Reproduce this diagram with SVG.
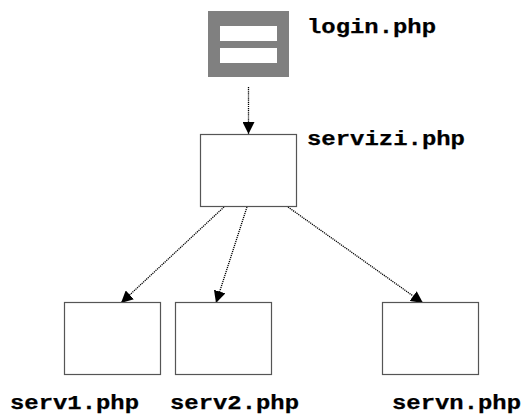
<svg xmlns="http://www.w3.org/2000/svg" width="526" height="414" viewBox="0 0 526 414">
<style>
.box{fill:#fff;stroke:#555;stroke-width:1.2}
.lbl{font-family:"Liberation Mono","Courier New",monospace;font-weight:bold;font-size:19.5px;fill:#000;stroke:#000;stroke-width:.25}
.con{fill:none;stroke:#000;stroke-width:1.3;stroke-dasharray:1.2 .9;marker-end:url(#arrow)}
</style>
<defs>
<marker id="arrow" viewBox="0 0 12 12" refX="12" refY="6" markerWidth="12" markerHeight="12" markerUnits="userSpaceOnUse" orient="auto"><path d="M0 0L12 6L0 12Z" fill="#000"/></marker>
</defs>
<rect width="526" height="414" fill="#fff"/>
<g id="connectors">
<line class="con" x1="248.5" y1="87" x2="248.5" y2="134"/>
<line class="con" x1="224" y1="207" x2="121" y2="303"/>
<line class="con" x1="247" y1="207" x2="216" y2="303"/>
<line class="con" x1="288" y1="207" x2="423" y2="303"/>
</g>
<g id="login">
<rect x="208" y="11" width="81" height="66" fill="#808080"/>
<rect x="220" y="26" width="57" height="15" fill="#fff"/>
<rect x="220" y="48" width="57" height="15" fill="#fff"/>
<text class="lbl" x="307" y="33" textLength="129" lengthAdjust="spacingAndGlyphs">login.php</text>
</g>
<g id="servizi">
<rect class="box" x="200.5" y="134.5" width="96" height="72"/>
<text class="lbl" x="307" y="145" textLength="158" lengthAdjust="spacingAndGlyphs">servizi.php</text>
</g>
<g id="serv1">
<rect class="box" x="64.5" y="302.5" width="96" height="72"/>
<text class="lbl" x="10" y="409" textLength="129" lengthAdjust="spacingAndGlyphs">serv1.php</text>
</g>
<g id="serv2">
<rect class="box" x="175.5" y="302.5" width="96" height="72"/>
<text class="lbl" x="170" y="409" textLength="129" lengthAdjust="spacingAndGlyphs">serv2.php</text>
</g>
<g id="servn">
<rect class="box" x="382.5" y="302.5" width="96" height="72"/>
<text class="lbl" x="392" y="409" textLength="129" lengthAdjust="spacingAndGlyphs">servn.php</text>
</g>
</svg>
